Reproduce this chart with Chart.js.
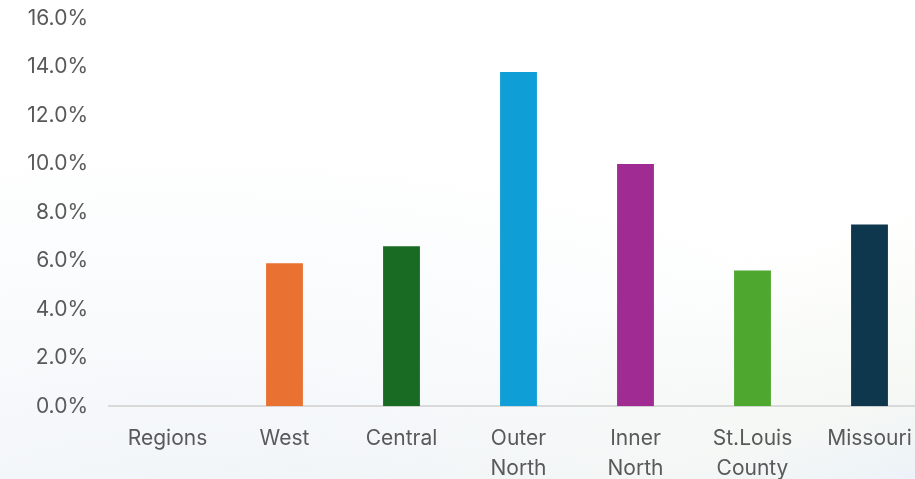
<!DOCTYPE html>
<html>
<head>
<meta charset="utf-8">
<script src="https://cdn.jsdelivr.net/npm/chart.js@4/dist/chart.umd.min.js"></script>
<style>
  html, body {
    margin: 0;
    padding: 0;
    width: 915px;
    height: 479px;
    overflow: hidden;
    background: #ffffff;
  }
  .bg {
    position: absolute;
    left: 0;
    top: 0;
    width: 915px;
    height: 479px;
    background:
      radial-gradient(ellipse 900px 420px at 180px 560px, rgba(232, 238, 244, 0.7) 0%, rgba(240, 244, 248, 0.45) 55%, rgba(255, 255, 255, 0) 100%),
      linear-gradient(160deg, rgba(255, 255, 255, 0) 65%, rgba(238, 243, 232, 0.5) 88%, rgba(222, 233, 243, 0.6) 100%);
  }
  #chart {
    position: absolute;
    left: 0;
    top: -9px;
  }
</style>
</head>
<body>
<div class="bg"></div>
<canvas id="chart" width="930" height="502"></canvas>
<script>
  const categories = ["Regions", "West", "Central", ["Outer", "North"], ["Inner", "North"], ["St.Louis", "County"], "Missouri"];
  const values = [null, 5.9, 6.6, 13.8, 10.0, 5.6, 7.5];
  const barColors = ["#ffffff", "#E97132", "#196B24", "#0F9ED5", "#A02B93", "#4EA72E", "#0E374D"];
  const yTicks = [0, 2, 4, 6, 8, 10, 12, 14, 16];

  const labelFont = { family: "Inter, 'Noto Sans', sans-serif", size: 21, lineHeight: 1.4 };

  new Chart(document.getElementById("chart"), {
    type: "bar",
    data: {
      labels: categories,
      datasets: [
        {
          data: values,
          backgroundColor: barColors,
          categoryPercentage: 0.5,
          barPercentage: 0.63,
        },
      ],
    },
    options: {
      responsive: false,
      animation: false,
      layout: { padding: { top: 0, right: 2, left: 0, bottom: 0 } },
      plugins: {
        legend: { display: false },
        tooltip: { enabled: false },
      },
      scales: {
        x: {
          grid: { display: false },
          border: { display: true, color: "#d9d9d9", width: 2 },
          ticks: {
            color: "#595959",
            font: labelFont,
            padding: 10,
            maxRotation: 0,
            autoSkip: false,
          },
        },
        y: {
          min: 0,
          max: 16,
          afterFit: function (scale) {
            scale.width = 109;
          },
          afterBuildTicks: function (scale) {
            scale.ticks = yTicks.map(function (v) {
              return { value: v };
            });
          },
          grid: { display: false },
          border: { display: false },
          ticks: {
            color: "#595959",
            font: labelFont,
            padding: 13,
            callback: function (value) {
              return Number(value).toFixed(1) + "%";
            },
          },
        },
      },
    },
  });
</script>
</body>
</html>
